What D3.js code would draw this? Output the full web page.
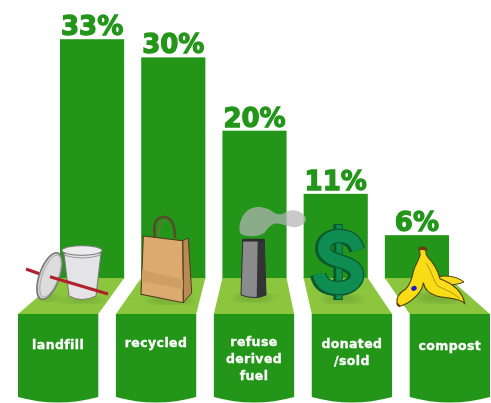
<!DOCTYPE html>
<html><head><meta charset="utf-8">
<script src="https://cdn.jsdelivr.net/npm/d3@7/dist/d3.min.js"></script>
<style>html,body{margin:0;padding:0;background:#fff}svg{display:block;filter:blur(.45px)}</style>
</head><body><svg id="c" width="491" height="403"></svg>
<script>
const categories = ["landfill","recycled","refuse derived fuel","donated /sold","compost"];
const shareLabels = ["33%","30%","20%","11%","6%"];
const barValues = [32.9,30.4,20.3,11.6,5.9];
const labelLines = [["landfill"],["recycled"],["refuse","derived","fuel"],["donated","/sold"],["compost"]];

const GREEN="#23961a", FLOOR="#8cc63f", BASE=278, FRONT=314, FOOT=397, BOTTOM=402;
const firstBaseline=[349,347,346,348,350];
const svg=d3.select("#c");
const defs=svg.append("defs");
defs.append("filter").attr("id","soft").append("feGaussianBlur").attr("stdDeviation",3);

const xBar=d3.scaleBand().domain(categories).range([60,449]).paddingInner(.21).paddingOuter(0);
const xPanel=d3.scaleBand().domain(categories).range([18,490]).paddingInner(.18).paddingOuter(0);
const y=d3.scaleLinear().domain([0,33]).range([BASE,BASE-239.5]);
const rows=categories.map((c,i)=>({c,i,v:barValues[i],label:shareLabels[i],lines:labelLines[i]}));

svg.selectAll("rect.bar").data(rows).join("rect").attr("class","bar")
  .attr("x",d=>xBar(d.c)).attr("y",d=>y(d.v)).attr("width",xBar.bandwidth()).attr("height",d=>BASE-y(d.v)+1).attr("fill",GREEN);
svg.selectAll("polygon.floor").data(rows).join("polygon").attr("class","floor").attr("fill",FLOOR)
  .attr("points",d=>[[xBar(d.c),BASE],[xBar(d.c)+xBar.bandwidth(),BASE],[xPanel(d.c)+xPanel.bandwidth(),FRONT],[xPanel(d.c),FRONT]].join(" "));
svg.selectAll("path.panel").data(rows).join("path").attr("class","panel").attr("fill",GREEN)
  .attr("d",d=>{const a=xPanel(d.c),w=xPanel.bandwidth();
    return `M${a},${FRONT}H${a+w}V${FOOT}Q${a+w/2},${BOTTOM+6} ${a},${FOOT}Z`;});
svg.selectAll("text.pct").data(rows).join("text").attr("class","pct")
  .attr("x",d=>xBar(d.c)+xBar.bandwidth()/2).attr("y",d=>y(d.v)-4).attr("text-anchor","middle")
  .attr("font-family","DejaVu Sans").attr("font-weight","bold").attr("font-size",26)
  .attr("fill",GREEN).attr("stroke",GREEN).attr("stroke-width",1.3).text(d=>d.label);
const lab=svg.selectAll("text.lab").data(rows).join("text").attr("class","lab")
  .attr("text-anchor","middle").attr("font-family","DejaVu Sans").attr("font-weight","bold")
  .attr("font-size",12.5).attr("letter-spacing",.4).attr("fill","#fff").attr("stroke","#fff").attr("stroke-width",.3);
lab.selectAll("tspan").data(d=>d.lines.map((t,k)=>({t,k,d}))).join("tspan")
  .attr("x",e=>xPanel(e.d.c)+xPanel.bandwidth()/2).attr("y",e=>firstBaseline[e.d.i]+e.k*17).text(e=>e.t);

// illustrations
const ic=svg.append("g");
const shadow=(cx,cy,rx,ry,o=.3)=>ic.append("ellipse").attr("cx",cx).attr("cy",cy).attr("rx",rx).attr("ry",ry)
  .attr("fill","#3c6a1a").attr("opacity",o).attr("filter","url(#soft)");
const P=(d,fill,stroke,sw,extra={})=>{const p=ic.append("path").attr("d",d).attr("fill",fill||"none");
  if(stroke)p.attr("stroke",stroke).attr("stroke-width",sw);
  Object.entries(extra).forEach(([k,v])=>p.attr(k,v));return p;};

// cup, lid, straw
shadow(82,300,22,3); shadow(50,298,10,3);
P("M26,269L40,274","none","#b2202c",3);
ic.append("ellipse").attr("cx",49.5).attr("cy",276).attr("rx",10).attr("ry",24.5).attr("transform","rotate(20 49.5 276)").attr("fill","#cfcfcf").attr("stroke","#767676").attr("stroke-width",1.6);
ic.append("ellipse").attr("cx",50.5).attr("cy",276).attr("rx",8).attr("ry",22).attr("transform","rotate(20 50.5 276)").attr("fill","#dcdcdc").attr("stroke","#a8a8a8").attr("stroke-width",.8);
P("M64,253L69,296Q82,303 96,296L101,253Z","#e4e4e6","#777",1);
ic.append("ellipse").attr("cx",82).attr("cy",250.5).attr("rx",20).attr("ry",4.8).attr("fill","#ececee").attr("stroke","#777").attr("stroke-width",1);
P("M63.5,255Q82,261 101,255","none","#999",1);
P("M50,276.7L108,294","none","#b2202c",3);

// bag
shadow(170,300,24,4);
P("M155,237C153,226 155,217 164,217C172,217 175,226 175,238","none","#5b4a2b",2.6);
P("M160,237C158,228 160,221 167,220","none","#7f6a45",1.2);
P("M182.7,240.7L188.3,238L191.7,293L183.3,302.7Z","#b88a52","#4d3a20",1);
P("M143.3,236L182.7,240.7L183.3,302.7L141,294.3Z","#dcaa6e","#4d3a20",1.1);
P("M142.2,270L183,279.5L183.2,289L141.6,281.5Z","#cf9e63");

// chimney
shadow(254,298,20,4);
P("M242.7,240H264.3L266,295Q254,300 241,295Z","#8b8b8d","#2f2f30",1);
P("M257.7,240H264.3L266,295Q262,297 256.7,298Z","#343436");
P("M242.3,238.8H264.7V241.5H242.3Z","#2c2c2e");
P("M240,233C238,224 242,213 250,209C258,205 268,208 273,212C277,215 282,215 286,212C292,208 302,211 305.5,217C308,223 300,228 292,227C286,226 281,223 276,223.5C271,224 268,228 265,232C261,237 245,238 240,233Z","#b4b4b4",null,0,{opacity:.72});

// dollar
shadow(342,299,20,4);
const S="M358,250C355,239 348,236 339,236C330,236 324,241 324,248C324,256 332,259 339,261C349,264 357,267 357,275C357,283 349,288 339,288C328,288 321,284 319,274";
P("M337,224V300","none","#0a5a2e",7.5);
P(S,"none","#0a5a2e",15,{transform:"translate(-1.5,.5)"});
P("M339,224V300","none","#0a5a2e",7.5);
P("M339,225V299","none","#0f8c52",5.5);
P(S,"none","#0a5a2e",14.5);
P(S,"none","#0f8c52",12);

// banana
shadow(440,298,24,5);
const bx=v=>v/3+390, by=v=>v/3+240;
const bp=(cmds)=>cmds.replace(/(-?\d+(?:\.\d+)?),(-?\d+(?:\.\d+)?)/g,(m,a,b)=>`${bx(+a).toFixed(1)},${by(+b).toFixed(1)}`);
P(bp("M140,112C165,104 200,108 222,126C200,136 170,136 145,128Z"),"#f7dc1e","#4d3d0c",1);
P(bp("M86,24C95,20 104,20 110,26C106,34 108,44 114,52C132,70 144,92 150,116C182,128 216,150 224,190C205,172 172,176 140,168C118,162 104,150 100,128C98,152 70,186 30,199L21,190C18,174 28,158 48,146C60,134 66,115 70,95C76,70 92,55 90,40Z"),"#f8dc16","#4d3d0c",1.1);
P(bp("M108,70C122,88 128,115 142,138C165,148 190,158 208,175"),"none","#b8970f",1);
P(bp("M86,24C95,20 104,20 110,26L107,32C100,29 92,30 88,32Z"),"#6b3d14");
P(bp("M21,190L30,199L24,197Z"),"#6b3d14","#6b3d14",1.5);
ic.append("ellipse").attr("cx",bx(72)).attr("cy",by(145)).attr("rx",2.8).attr("ry",2.3).attr("fill","#1a1ad0").attr("transform",`rotate(-30 ${bx(72)} ${by(145)})`);
</script></body></html>
